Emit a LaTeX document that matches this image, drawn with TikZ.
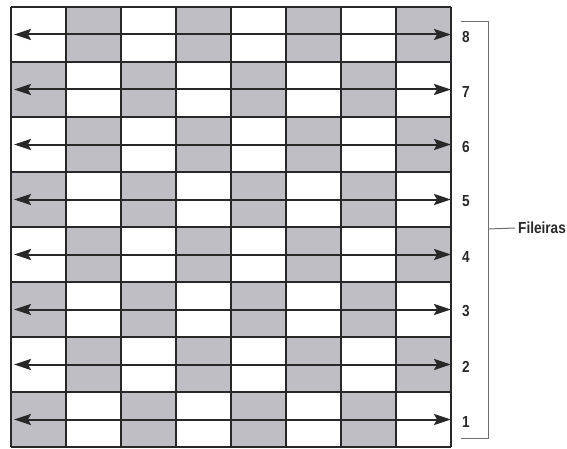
\documentclass[tikz,border=0pt]{standalone}
\usepackage{fontspec}
\setmainfont{Liberation Sans}
\newfontfamily\rowfont[FakeStretch=0.85]{Liberation Sans}
\usetikzlibrary{arrows.meta,positioning,calc}
\definecolor{cellgray}{RGB}{190,190,196}
\definecolor{gridline}{RGB}{40,40,40}
\definecolor{bracketgray}{RGB}{110,110,110}

\begin{document}
\begin{tikzpicture}[x=1pt, y=1pt,
    cell/.style={fill=cellgray},
    board/.style={draw=gridline, line width=2pt},
    arrow/.style={{Stealth[length=17pt,width=11pt,inset=3pt]}-{Stealth[length=17pt,width=11pt,inset=3pt]}, line width=2pt, draw=gridline},
    rownum/.style={font=\rowfont\bfseries\fontsize{16}{16}\selectfont, text=gridline, inner sep=0pt},
    bracket/.style={draw=bracketgray, line width=1pt}
]
    \useasboundingbox (0,0) rectangle (567,448);

    % gray squares
    \foreach \c in {1,...,8}
      \foreach \r in {1,...,8} {
        \pgfmathtruncatemacro{\odd}{mod(\c+\r,2)}
        \ifnum\odd=0
          \fill [cell] ({11+(\c-1)*55},{1+(\r-1)*55}) rectangle +(55,55);
        \fi
      }
    \draw [board, shift={(11,1)}] (0,0) grid [step=55] (440,440);

    % rows
    \foreach \r in {1,...,8} {
        \coordinate (w\r) at (14,{1+(\r-0.5)*55});
        \coordinate (e\r) at (451,{1+(\r-0.5)*55});
        \draw [arrow] (w\r) -- (e\r);
        \node [rownum] (n\r) at (466,{(\r-0.5)*55-1}) {\r};
    }

    % bracket
    \coordinate (btop) at (461,426);
    \coordinate (bbot) at (461,10);
    \coordinate (bmid) at (488,219);
    \draw [bracket] (btop) -- ++(27,0) |- (bbot);
    \node [rownum, anchor=west, inner sep=3pt] (fil) at (515,220) {Fileiras};
    \draw [bracket] (bmid) -- (fil.west);
\end{tikzpicture}
\end{document}
